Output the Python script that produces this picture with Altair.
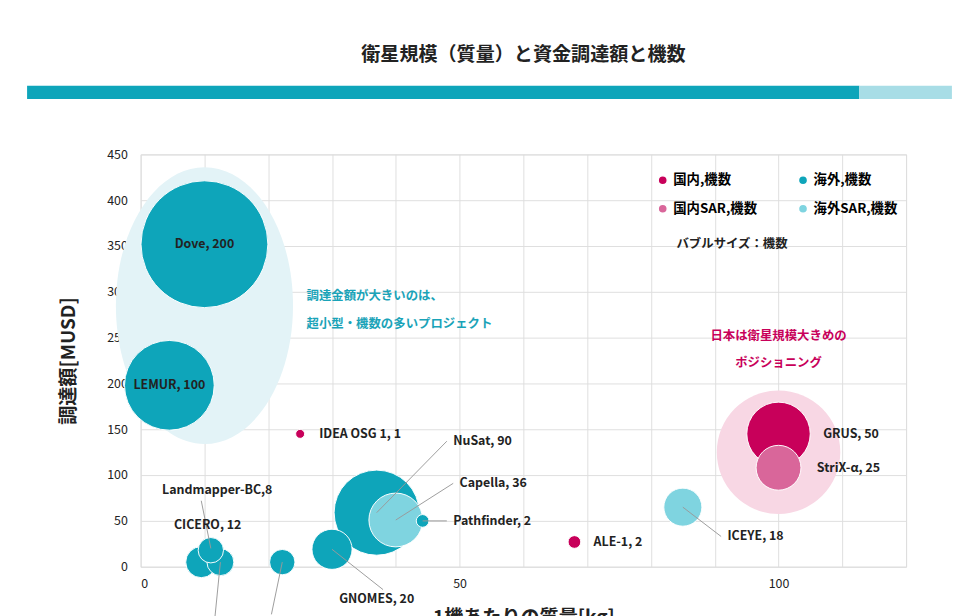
import altair as alt
import pandas as pd

names = ["Dove, 200", "LEMUR, 100", "IDEA OSG 1, 1", "NuSat, 90", "Capella, 36", "Pathfinder, 2",
         "ALE-1, 2", "GRUS, 50", "StriX-α, 25", "ICEYE, 18", "GNOMES, 20", "1HOPSat, 8",
         "Landmapper-BC,8", "CICERO, 12", "exactView, 9"]
mass = [10, 4.5, 25, 37, 40, 44.2, 68, 100, 100, 85, 30, 22.2, 11, 9.5, 12.5]
fund = [352, 198, 145, 59, 51, 50, 27, 145, 108, 65, 19, 5, 18, 5, 5]
count = [200, 100, 1, 90, 36, 2, 2, 50, 25, 18, 20, 8, 8, 12, 9]
group = ["海外,機数", "海外,機数", "国内,機数", "海外,機数", "海外SAR,機数", "海外,機数",
         "国内,機数", "国内,機数", "国内SAR,機数", "海外SAR,機数", "海外,機数", "海外,機数",
         "海外,機数", "海外,機数", "海外,機数"]
# label positions
lx = [10, 4.5, 28, 49, 50, 49, 71, 107, 106, 92, 37, 26, 12, 10.5, 0]
ly = [352, 198, 145, 137, 91, 50, 27, 145, 108, 33, -35, -65, 83, 45, -65]
la = ["center", "center", "left", "left", "left", "left", "left", "left", "left", "left",
      "center", "center", "center", "center", "center"]
# leader lines
l_x = [37, 40, 44.2, 85, 30, 22.2, 11, 12.5]
l_y = [59, 51, 50, 65, 19, 5, 20, 5]
l_x2 = [48, 49, 48, 91, 38, 20.5, 9.5, 11.5]
l_y2 = [137, 91, 50, 33, -25, -52, 72, -65]

domain = ["国内,機数", "国内SAR,機数", "海外,機数", "海外SAR,機数"]
rng = ["#c8005a", "#d9669a", "#0ea5ba", "#7fd4e0"]

df = pd.DataFrame(dict(name=names, mass=mass, fund=fund, count=count, group=group))
lab = pd.DataFrame(dict(t=names, x=lx, y=ly, a=la))
lines = pd.DataFrame(dict(x=l_x, y=l_y, x2=l_x2, y2=l_y2))

X = alt.Scale(domain=[0, 120], nice=False)
Y = alt.Scale(domain=[0, 450], nice=False)
FONT = "Noto Sans CJK JP"

ell = pd.DataFrame(dict(x=[10, 100], y=[285, 125]))
ellipse = alt.Chart(ell.iloc[[0]]).mark_point(
    shape="M-0.64,0A0.64,1 0 1,0 0.64,0A0.64,1 0 1,0 -0.64,0Z", filled=True, opacity=1,
    color="#e3f3f7", size=290 * 290
).encode(x=alt.X("x:Q", scale=X), y=alt.Y("y:Q", scale=Y))
pink = alt.Chart(ell.iloc[[1]]).mark_circle(color="#f8d7e4", opacity=1, size=3.1416 * 73 * 73).encode(
    x=alt.X("x:Q", scale=X), y=alt.Y("y:Q", scale=Y))

bubbles = alt.Chart(df).mark_circle(opacity=1, stroke="white", strokeWidth=1).encode(
    x=alt.X("mass:Q", scale=X, title="1機あたりの質量[kg]",
            axis=alt.Axis(values=list(range(0, 121, 10)), labelExpr="datum.value % 50 == 0 ? datum.label : ''",
                          grid=True, gridColor="#dddddd", domain=False, ticks=False,
                          titleFontSize=20, titleFontWeight="bold", labelFontSize=13, titlePadding=18, labelPadding=12)),
    y=alt.Y("fund:Q", scale=Y, title="調達額[MUSD]",
            axis=alt.Axis(values=list(range(0, 451, 50)), grid=True, gridColor="#dddddd", domain=False, ticks=False,
                          titleFontSize=20, titleFontWeight="bold", labelFontSize=13, titlePadding=30, labelPadding=14)),
    size=alt.Size("count:Q", scale=alt.Scale(domain=[0, 200], range=[0, 17670], zero=True), legend=None),
    color=alt.Color("group:N", scale=alt.Scale(domain=domain, range=rng),
                    legend=alt.Legend(title=None, orient="none", legendX=540, legendY=20, columns=2,
                                      columnPadding=40, rowPadding=14, labelFontSize=14, labelFontWeight="bold",
                                      symbolType="circle", symbolSize=90, labelFont=FONT)),
    order=alt.Order("count:Q", sort="descending"),
)

rules = alt.Chart(lines).mark_rule(color="#999999", strokeWidth=1).encode(
    x=alt.X("x:Q", scale=X), y=alt.Y("y:Q", scale=Y), x2="x2:Q", y2="y2:Q")

texts_c = alt.Chart(lab[lab.a == "center"]).mark_text(fontSize=13, fontWeight="bold", color="#222", font=FONT, align="center").encode(
    x=alt.X("x:Q", scale=X), y=alt.Y("y:Q", scale=Y), text="t:N")
texts_l = alt.Chart(lab[lab.a == "left"]).mark_text(fontSize=13, fontWeight="bold", color="#222", font=FONT, align="left").encode(
    x=alt.X("x:Q", scale=X), y=alt.Y("y:Q", scale=Y), text="t:N")

notes = pd.DataFrame(dict(t=["調達金額が大きいのは、", "超小型・機数の多いプロジェクト", "日本は衛星規模大きめの", "ポジショニング", "バブルサイズ：機数"],
                          x=[26, 26, 100, 100, 84], y=[295, 265, 252, 222, 352],
                          c=["#1aa3b8", "#1aa3b8", "#c8005a", "#c8005a", "#222222"],
                          a=["left", "left", "center", "center", "left"]))
note_l = alt.Chart(notes[notes.a == "left"]).mark_text(fontSize=13, fontWeight="bold", font=FONT, align="left").encode(
    x=alt.X("x:Q", scale=X), y=alt.Y("y:Q", scale=Y), text="t:N", color=alt.Color("c:N", scale=None))
note_c = alt.Chart(notes[notes.a == "center"]).mark_text(fontSize=13, fontWeight="bold", font=FONT, align="center").encode(
    x=alt.X("x:Q", scale=X), y=alt.Y("y:Q", scale=Y), text="t:N", color=alt.Color("c:N", scale=None))

bar = alt.Chart(pd.DataFrame(dict(a=[0]))).mark_rect(color="#0ea5ba").encode(
    x=alt.value(-119), x2=alt.value(753), y=alt.value(-72), y2=alt.value(-58))
bar2 = alt.Chart(pd.DataFrame(dict(a=[0]))).mark_rect(color="#a8dde6").encode(
    x=alt.value(753), x2=alt.value(850), y=alt.value(-72), y2=alt.value(-58))

chart = alt.layer(ellipse, pink, bubbles, rules, texts_c, texts_l, note_l, note_c, bar, bar2).properties(
    width=802, height=432,
    padding={"left": 20, "top": 24, "right": 20, "bottom": 5},
    title=alt.TitleParams("衛星規模（質量）と資金調達額と機数", fontSize=20, fontWeight="bold", font=FONT,
                          anchor="middle", offset=22, color="#222222"),
).configure_axis(labelFont=FONT, titleFont=FONT, labelColor="#222222", titleColor="#222222").configure_view(
    stroke="#dddddd")

chart.save("out.html", embed_options={"renderer": "svg", "actions": False})
